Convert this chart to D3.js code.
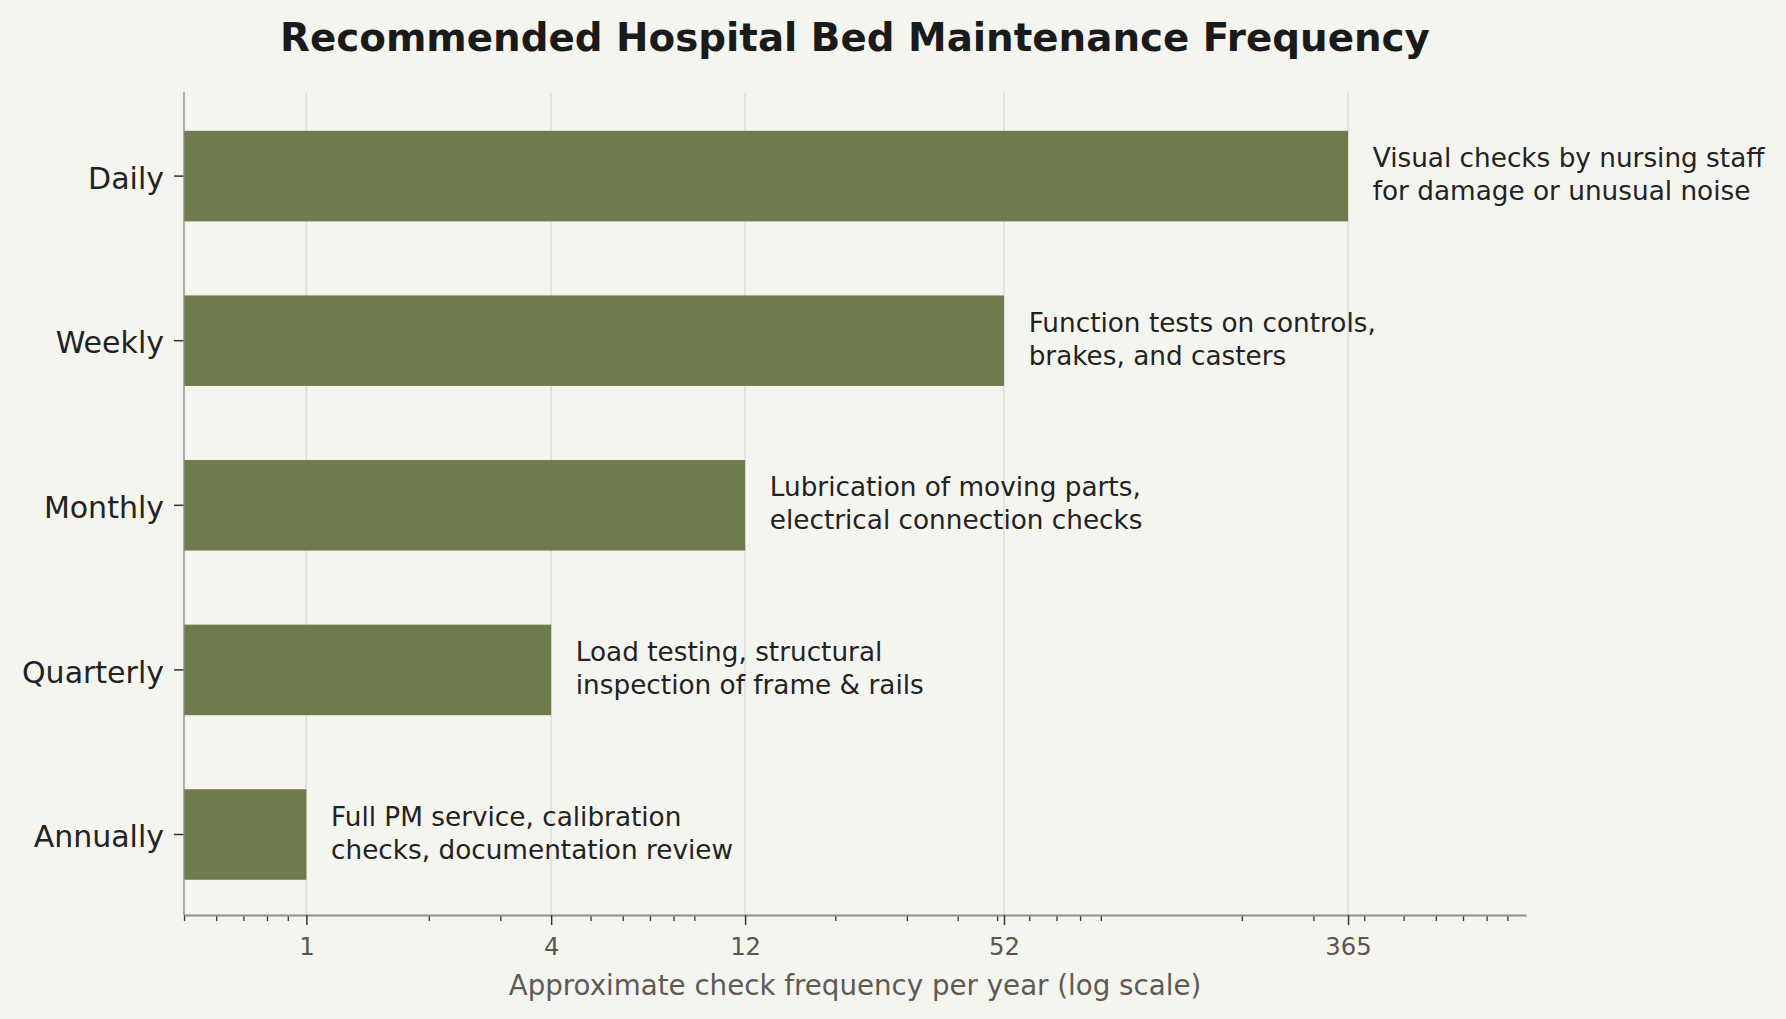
<!DOCTYPE html>
<html>
<head>
<meta charset="utf-8">
<script src="https://cdn.jsdelivr.net/npm/d3@7"></script>
<style>
  body { margin: 0; background: #f5f5f0; }
  text { font-family: "DejaVu Sans", sans-serif; }
</style>
</head>
<body>
<script>
// categories, top to bottom
var categories = ["Daily", "Weekly", "Monthly", "Quarterly", "Annually"];
// checks per year
var values = [365, 52, 12, 4, 1];
// two-line notes next to each bar
var notes = [
  ["Visual checks by nursing staff", "for damage or unusual noise"],
  ["Function tests on controls,", "brakes, and casters"],
  ["Lubrication of moving parts,", "electrical connection checks"],
  ["Load testing, structural", "inspection of frame & rails"],
  ["Full PM service, calibration", "checks, documentation review"]
];
var majorTicks = [1, 4, 12, 52, 365];

var W = 1786, H = 1019;
var margin = {top: 92, right: 260, bottom: 104, left: 184};
var xBottom = H - margin.bottom;

var svg = d3.select("body").append("svg")
    .attr("width", W)
    .attr("height", H);

svg.append("rect").attr("width", W).attr("height", H).attr("fill", "#f5f5f0");

var x = d3.scaleLog()
    .domain([0.5, 1000])
    .range([margin.left, W - margin.right]);

var y = d3.scaleBand()
    .domain(categories)
    .range([margin.top + 1.8, xBottom + 1.8])
    .paddingInner(0.45)
    .paddingOuter(0.225);

// vertical grid at the major ticks
svg.append("g").selectAll("line")
    .data(majorTicks)
  .enter().append("line")
    .attr("x1", function(d) { return x(d); })
    .attr("x2", function(d) { return x(d); })
    .attr("y1", margin.top + 1)
    .attr("y2", xBottom)
    .attr("stroke", "#dcdcd6")
    .attr("stroke-width", 1.4);

// bars
svg.append("g").selectAll("rect")
    .data(categories)
  .enter().append("rect")
    .attr("x", x(0.5))
    .attr("y", function(d) { return y(d); })
    .attr("width", function(d, i) { return x(values[i]) - x(0.5); })
    .attr("height", y.bandwidth())
    .attr("fill", "#6e7b4b");

// notes
var note = svg.append("g").selectAll("text")
    .data(categories)
  .enter().append("text")
    .attr("x", function(d, i) { return x(values[i] * 1.15); })
    .attr("y", function(d) { return y(d) + y.bandwidth() / 2; })
    .attr("font-size", "26.3px")
    .attr("fill", "#222222");
note.each(function(d, i) {
  var t = d3.select(this);
  t.append("tspan").attr("x", t.attr("x")).attr("dy", -9).text(notes[i][0]);
  t.append("tspan").attr("x", t.attr("x")).attr("dy", 33).text(notes[i][1]);
});

// minor ticks on the x axis
var minorTicks = x.ticks().filter(function(v) {
  var lg = Math.log10(v);
  return Math.abs(lg - Math.round(lg)) > 1e-9 && majorTicks.indexOf(v) < 0;
});

svg.append("g")
    .attr("transform", "translate(0," + xBottom + ")")
    .call(d3.axisBottom(x).tickValues(minorTicks).tickSize(6).tickFormat(""))
    .call(function(g) {
      g.select(".domain").remove();
      g.selectAll(".tick line").attr("stroke", "#333").attr("stroke-width", 1.3);
    });

svg.append("g")
    .attr("transform", "translate(0," + xBottom + ")")
    .call(d3.axisBottom(x).tickValues(majorTicks).tickSize(10).tickSizeOuter(0).tickPadding(13)
      .tickFormat(d3.format("d")))
    .call(function(g) {
      g.select(".domain").attr("stroke", "#909089").attr("stroke-width", 1.8);
      g.selectAll(".tick line").attr("stroke", "#333").attr("stroke-width", 1.5);
      g.selectAll(".tick text")
        .attr("font-size", "24.3px")
        .attr("fill", "#5a5550")
        .attr("font-family", "DejaVu Sans, sans-serif");
    });

// y axis
svg.append("g")
    .attr("transform", "translate(" + margin.left + ",0)")
    .call(d3.axisLeft(y).tickSize(10).tickSizeOuter(0).tickPadding(10))
    .call(function(g) {
      g.select(".domain").remove();
      g.selectAll(".tick line").attr("stroke", "#333").attr("stroke-width", 1.5);
      g.selectAll(".tick text")
        .attr("font-size", "30px")
        .attr("fill", "#222222")
        .attr("dy", "0.42em")
        .attr("font-family", "DejaVu Sans, sans-serif");
    });

// left spine
svg.append("line")
    .attr("x1", margin.left).attr("x2", margin.left)
    .attr("y1", margin.top).attr("y2", xBottom)
    .attr("stroke", "#8e8e88")
    .attr("stroke-width", 1.4);

// axis label
svg.append("text")
    .attr("x", (x.range()[0] + x.range()[1]) / 2)
    .attr("y", 995)
    .attr("text-anchor", "middle")
    .attr("font-size", "27.7px")
    .attr("fill", "#5e5a55")
    .text("Approximate check frequency per year (log scale)");

// title
svg.append("text")
    .attr("x", (x.range()[0] + x.range()[1]) / 2)
    .attr("y", 51)
    .attr("text-anchor", "middle")
    .attr("font-size", "38.8px")
    .attr("font-weight", "bold")
    .attr("fill", "#1a1a1a")
    .text("Recommended Hospital Bed Maintenance Frequency");
</script>
</body>
</html>
